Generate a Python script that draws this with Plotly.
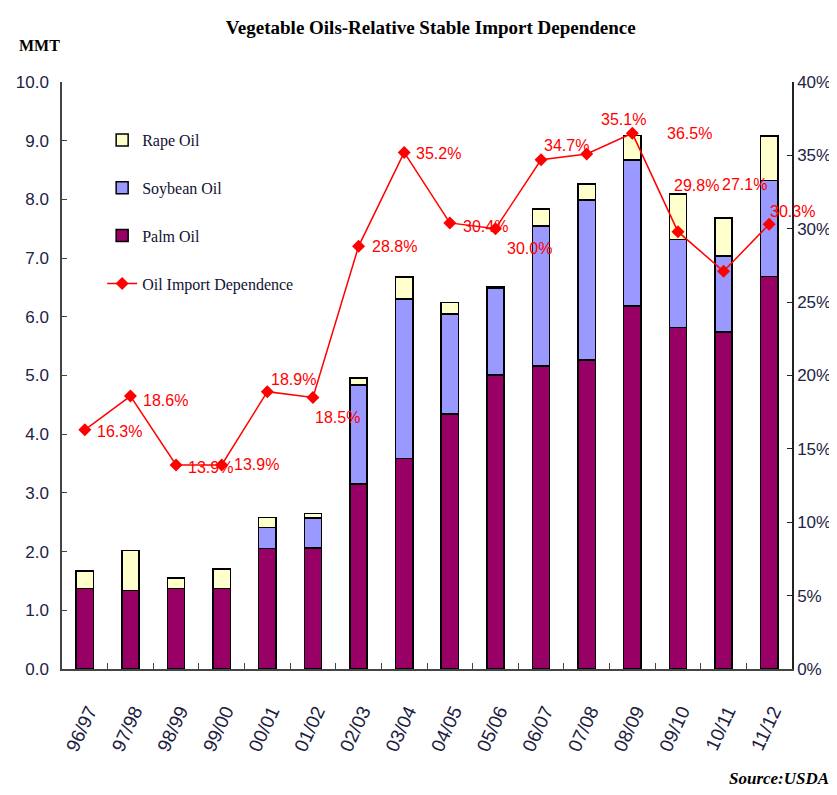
import plotly.graph_objects as go

years = ["96/97", "97/98", "98/99", "99/00", "00/01", "01/02", "02/03", "03/04",
         "04/05", "05/06", "06/07", "07/08", "08/09", "09/10", "10/11", "11/12"]
palm = [1.37, 1.34, 1.37, 1.37, 2.05, 2.06, 3.15, 3.59, 4.34, 5.01, 5.16, 5.26, 6.18, 5.82, 5.74, 6.69]
soybean = [0.0, 0.0, 0.0, 0.0, 0.36, 0.51, 1.69, 2.71, 1.71, 1.48, 2.39, 2.73, 2.49, 1.50, 1.30, 1.63]
rape = [0.30, 0.68, 0.18, 0.33, 0.17, 0.08, 0.12, 0.38, 0.19, 0.03, 0.29, 0.27, 0.42, 0.77, 0.64, 0.76]
dependence = [16.3, 18.6, 13.9, 13.9, 18.9, 18.5, 28.8, 35.2, 30.4, 30.0, 34.7, 35.1, 36.5, 29.8, 27.1, 30.3]
dep_labels = ["16.3%", "18.6%", "13.9%", "13.9%", "18.9%", "18.5%", "28.8%", "35.2%",
              "30.4%", "30.0%", "34.7%", "35.1%", "36.5%", "29.8%", "27.1%", "30.3%"]
left_ticks = [0, 1, 2, 3, 4, 5, 6, 7, 8, 9, 10]
right_ticks = [0, 5, 10, 15, 20, 25, 30, 35, 40]
right_labels = ["0%", "5%", "10%", "15%", "20%", "25%", "30%", "35%", "40%"]

# label offsets (px): right, down
label_dx = [10, 11, 10, 10, 2, 0, 11, 10, 11, 10, 1, 12, 33, -6, -4, -1]
label_dy = [2, 4, 2, -1, -12, 20, 0, 1, 4, 20, -14, -34, 0, -46, -87, -13]

narrow = "Liberation Sans Narrow, Arial Narrow, Liberation Sans, Arial, sans-serif"
serif = "Liberation Serif, Times New Roman, serif"

fig = go.Figure()
fig.add_trace(go.Bar(x=years, y=palm, name="Palm Oil", legendrank=3, legendgroup="c",
                     marker=dict(color="#990066", line=dict(color="black", width=1.5))))
fig.add_trace(go.Bar(x=years, y=soybean, name="Soybean Oil", legendrank=2, legendgroup="b",
                     marker=dict(color="#9999FF", line=dict(color="black", width=1.5))))
fig.add_trace(go.Bar(x=years, y=rape, name="Rape Oil", legendrank=1, legendgroup="a",
                     marker=dict(color="#FFFFCC", line=dict(color="black", width=1.5))))
fig.add_trace(go.Scatter(x=years, y=dependence, yaxis="y2", name="Oil Import Dependence",
                         legendrank=4, legendgroup="d", mode="lines+markers",
                         line=dict(color="#FF0000", width=1.5),
                         marker=dict(symbol="diamond", size=10, color="#FF0000")))

annotations = []
for xv, yv, t, dx, dy in zip(years, dependence, dep_labels, label_dx, label_dy):
    annotations.append(dict(x=xv, y=yv, xref="x", yref="y2", text=t, showarrow=False,
                            xanchor="left", yanchor="middle", xshift=dx, yshift=-dy,
                            font=dict(family=narrow, size=16, color="#FF0000")))
annotations.append(dict(x=-0.061, y=1.063, xref="paper", yref="paper", text="<b>MMT</b>",
                        showarrow=False, xanchor="left", yanchor="middle",
                        font=dict(family=serif, size=16, color="black")))
annotations.append(dict(x=1.054, y=-0.186, xref="paper", yref="paper", text="<b><i>Source:USDA</i></b>",
                        showarrow=False, xanchor="right", yanchor="middle",
                        font=dict(family=serif, size=17, color="black")))

fig.update_layout(
    width=829, height=787,
    margin=dict(l=54, r=45, t=74, b=126, autoexpand=False),
    paper_bgcolor="white", plot_bgcolor="white",
    barmode="stack", bargap=0.62,
    title=dict(text="<b>Vegetable Oils-Relative Stable Import Dependence</b>",
               x=0.51, xanchor="center", y=0.975, yanchor="middle",
               font=dict(family=serif, size=19, color="black")),
    showlegend=True,
    legend=dict(x=0.055, y=0.93, xanchor="left", yanchor="top", traceorder="grouped",
                tracegroupgap=24, itemwidth=30, bgcolor="rgba(0,0,0,0)",
                font=dict(family=serif, size=16, color="#111133")),
    xaxis=dict(type="category", range=[-0.5, 15.5], tickangle=-65, showline=True,
               linecolor="#444444", linewidth=1.5,
               ticks="inside", tickson="boundaries", ticklen=6, tickcolor="#444444",
               ticklabelstandoff=22, ticklabelshift=4,
               tickfont=dict(family="Liberation Sans, Arial, sans-serif", size=19, color="#202040"),
               showgrid=False, zeroline=False, automargin=False),
    yaxis=dict(range=[0, 10], tickvals=left_ticks, tickformat=".1f", showline=True,
               linecolor="#444444", linewidth=1.5, ticks="inside", ticklen=5, tickcolor="#444444",
               ticklabelstandoff=8,
               tickfont=dict(family=narrow, size=17, color="#222244"),
               showgrid=False, zeroline=False, automargin=False),
    yaxis2=dict(range=[0, 40], tickmode="array", tickvals=right_ticks, ticktext=right_labels,
                overlaying="y", side="right",
                showline=True, linecolor="#222222", linewidth=1.5, ticks="inside", ticklen=5,
                tickcolor="#222222", tickfont=dict(family=narrow, size=17, color="#222244"),
                showgrid=False, zeroline=False, automargin=False),
    annotations=annotations,
)

fig.write_html("out.html")
